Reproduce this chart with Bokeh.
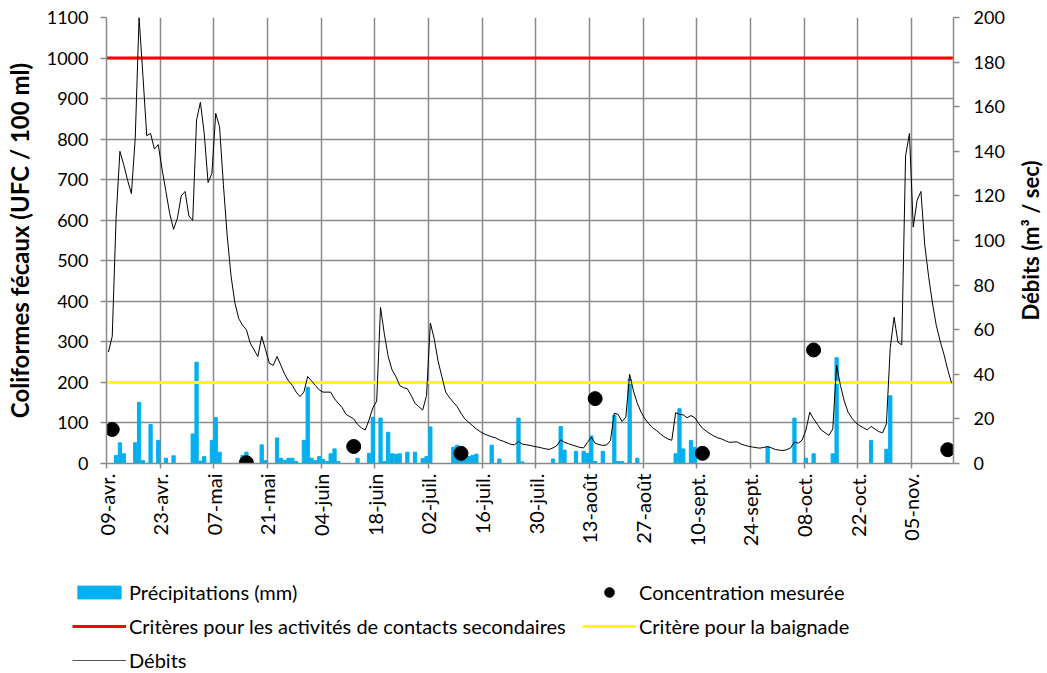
import math
from bokeh.plotting import figure
from bokeh.layouts import row
from bokeh.models import Range1d, LinearAxis, FixedTicker, Legend, LegendItem, Label
from bokeh.embed import file_html
from bokeh.resources import INLINE

# ---- data (day index counted from 09-avr.) ----
tick_days = [0, 14, 28, 42, 56, 70, 84, 98, 112, 126, 140, 154, 168, 182, 196, 210]
tick_labels = ["09-avr.", "23-avr.", "07-mai", "21-mai", "04-juin", "18-juin",
               "02-juil.", "16-juil.", "30-juil.", "13-août", "27-août",
               "10-sept.", "24-sept.", "08-oct.", "22-oct.", "05-nov."]

precip_days = [2, 3, 4, 7, 8, 9, 11, 13, 15, 17, 22, 23, 24, 25, 27, 28, 29,
               35, 36, 40, 41, 44, 45, 46, 47, 48, 49, 51, 52, 53, 54, 55, 56,
               57, 58, 59, 60, 65, 68, 69, 71, 72, 73, 74, 75, 76, 78, 80, 82,
               83, 84, 90, 91, 92, 93, 94, 95, 96, 100, 102, 107, 108, 116, 118,
               119, 122, 124, 125, 126, 127, 129, 132, 133, 134, 136, 138, 148,
               149, 150, 152, 153, 172, 179, 182, 184, 189, 190, 199, 203, 204]
precip_mm = [20, 51, 24, 51, 151, 7, 96, 57, 13, 19, 73, 250, 6, 17, 57, 113, 28,
             20, 28, 46, 7, 63, 13, 8, 13, 13, 5, 57, 188, 13, 7, 17, 10,
             5, 24, 36, 5, 13, 25, 114, 112, 5, 77, 24, 23, 24, 28, 28, 12,
             17, 90, 40, 45, 35, 12, 17, 20, 23, 45, 11, 112, 4, 11, 91,
             33, 30, 30, 25, 68, 5, 30, 119, 5, 5, 208, 13, 24,
             135, 36, 57, 40, 41, 112, 13, 24, 24, 261, 57, 35, 167]

conc_days = [1, 36, 64, 92, 127, 155, 184, 219]
conc_ufc = [84, 2, 42, 25, 160, 25, 280, 34]

debit_m3s = [50, 57, 110, 140, 134, 127, 121, 146, 200, 174,
             147, 148, 141, 143, 132, 122, 112, 105, 110, 120,
             122, 111, 109, 154, 162, 148, 126, 130, 157, 151,
             125, 102, 84, 72, 65, 62, 60, 54, 51, 48,
             57, 51, 45, 44, 48, 44, 40, 37, 35, 32,
             30, 32, 39, 37, 35, 33, 32, 32, 32, 29,
             27, 25, 22, 21, 20, 17.5, 16, 15, 19.5, 25,
             28, 70, 58, 48, 42, 39, 35, 34, 33.5, 30.5,
             27, 25.5, 24, 30.5, 63, 56, 46, 39, 32, 29.5,
             27.5, 25.5, 22.5, 20, 18.5, 17, 15.5, 14.3, 13.3, 12.6,
             12, 11.5, 10.6, 10, 9.3, 8.6, 8.4, 9.9, 8.7, 8.4,
             8.1, 7.7, 7.4, 7, 6.6, 6.3, 7, 8, 10.6, 9.5,
             8.9, 8.3, 7.8, 7.2, 7, 9.5, 11.8, 9.1, 8.5, 8.1,
             8.3, 10.3, 22.6, 22, 18.8, 20.8, 40, 32.5, 27, 23,
             20, 17.8, 16, 14.8, 13.3, 12, 11, 10.4, 22.8, 22,
             21.8, 20.5, 21.5, 20.5, 18, 15.8, 14.5, 13.3, 12.3, 11.5,
             11, 10.2, 9.5, 9.6, 9.7, 8.8, 8.2, 7.7, 7.4, 7.1,
             6.9, 7.2, 7.6, 7, 6.3, 6, 5.8, 6.2, 7, 9.6,
             9.1, 10.5, 15, 23, 20, 17.5, 15, 13.8, 12.6, 15.5,
             44, 35, 28, 23, 20.3, 18.3, 17, 16, 15.1, 16.6,
             15.5, 14.3, 13.8, 17.8, 52, 65.6, 54.4, 53.2, 138, 148,
             106, 118, 122, 98, 84, 72, 62, 55, 49, 42,
             36]
debit_days = list(range(len(debit_m3s)))

critere_secondaire = 1000
critere_baignade = 200

left_ticks = list(range(0, 1101, 100))
right_ticks = list(range(0, 201, 20))

# ---- styles ----
FONT = "Lato"
GRID = "#8a8a8a"
BLUE = "#00B0F0"
RED = "#FF0000"
YELLOW = "#FFFF00"
x_start, x_end = -0.5, 220.5

# ---- main chart ----
p = figure(width=1007, height=556, output_backend="svg", toolbar_location=None,
           x_range=Range1d(x_start, x_end), y_range=Range1d(0, 1100),
           min_border_left=106, min_border_right=54, min_border_top=17,
           min_border_bottom=93)
p.outline_line_color = None
p.extra_y_ranges = {"debit": Range1d(0, 200)}

xa = p.xaxis[0]
xa.ticker = FixedTicker(ticks=[d - 0.5 for d in tick_days])
xa.major_label_overrides = {d - 0.5: lab for d, lab in zip(tick_days, tick_labels)}
xa.major_label_orientation = math.pi / 2
ya = p.yaxis[0]
ya.ticker = FixedTicker(ticks=left_ticks)
ya.axis_label = "Coliformes fécaux (UFC / 100 ml)"
ra = LinearAxis(y_range_name="debit", ticker=FixedTicker(ticks=right_ticks))
p.add_layout(ra, "right")

for ax in (xa, ya, ra):
    ax.axis_line_color = GRID
    ax.axis_line_width = 1.5
    ax.major_tick_line_color = GRID
    ax.major_tick_line_width = 1.5
    ax.major_tick_out = 6
    ax.major_tick_in = 0
    ax.minor_tick_line_color = None
    ax.major_label_text_font = FONT
    ax.major_label_text_font_size = "18px"
    ax.major_label_text_color = "black"
    ax.axis_label_text_font = FONT
    ax.axis_label_text_font_style = "bold"
    ax.axis_label_text_color = "black"
xa.major_tick_out = 5
xa.major_label_standoff = 5
xa.major_label_text_font_size = "20px"
ya.major_label_standoff = 12
ya.axis_label_standoff = 10
ya.axis_label_text_font_size = "24px"
ra.major_label_standoff = 14

p.xgrid.grid_line_color = GRID
p.xgrid.grid_line_width = 1.5
p.ygrid.grid_line_color = GRID
p.ygrid.grid_line_width = 1.5

bars = p.vbar(x=precip_days, top=precip_mm, width=0.85, color=BLUE)
red = p.line(x=[x_start, x_end], y=[critere_secondaire] * 2, color=RED, line_width=3)
yellow = p.line(x=[x_start, x_end], y=[critere_baignade] * 2, color=YELLOW, line_width=3)
deb = p.line(x=debit_days, y=debit_m3s, y_range_name="debit", color="black", line_width=1)
dots = p.scatter(x=conc_days, y=conc_ufc, size=14, color="black")

# ---- right axis title (reads bottom-to-top, centred on the plot area) ----
rt = figure(width=40, height=556, output_backend="svg", toolbar_location=None,
            x_range=Range1d(0, 1), y_range=Range1d(0, 1),
            min_border_left=0, min_border_right=0, min_border_top=17,
            min_border_bottom=93)
rt.outline_line_color = None
rt.axis.visible = False
rt.grid.visible = False
rt.add_layout(Label(x=0.575, y=0.5, text="Débits (m³ / sec)", angle=math.pi / 2,
                    text_align="center", text_baseline="middle",
                    text_font=FONT, text_font_style="bold",
                    text_font_size="22px", text_color="black"))

# ---- legend strip (keys reuse the series; their marks fall outside this strip's ranges) ----
lg = figure(width=1047, height=117, output_backend="svg", toolbar_location=None,
            x_range=Range1d(-2000, -1000), y_range=Range1d(-2000, -1000), min_border=0)
lg.outline_line_color = None
lg.axis.visible = False
lg.grid.visible = False
k_bar = lg.vbar(x=precip_days, top=precip_mm, width=0.85, color=BLUE)
k_dot = lg.scatter(x=conc_days, y=conc_ufc, size=14, color="black")
k_red = lg.line(x=[x_start, x_end], y=[critere_secondaire] * 2, color=RED, line_width=3)
k_yel = lg.line(x=[x_start, x_end], y=[critere_baignade] * 2, color=YELLOW, line_width=3)
k_deb = lg.line(x=debit_days, y=debit_m3s, color="#555555", line_width=1)


def make_legend(items, loc, glyph_h):
    L = Legend(items=items, location=loc, orientation="vertical")
    L.label_text_font = FONT
    L.label_text_font_size = "20px"
    L.label_text_color = "black"
    L.glyph_width = 54
    L.glyph_height = glyph_h
    L.label_height = 24
    L.label_standoff = 3
    L.spacing = 10
    L.padding = 0
    L.margin = 0
    L.border_line_color = None
    L.background_fill_alpha = 0
    return L


legA = make_legend([
    LegendItem(label="Précipitations (mm)", renderers=[k_bar]),
    LegendItem(label="Critères pour les activités de contacts secondaires", renderers=[k_red]),
    LegendItem(label="Débits", renderers=[k_deb]),
], (72, 1), 16)
legB = make_legend([
    LegendItem(label="Concentration mesurée", renderers=[k_dot]),
    LegendItem(label="Critère pour la baignade", renderers=[k_yel]),
], (582, 35), 24)
lg.add_layout(legA)
lg.add_layout(legB)

open("out.html", "w").write(file_html([row(p, rt, spacing=0), lg], INLINE))
